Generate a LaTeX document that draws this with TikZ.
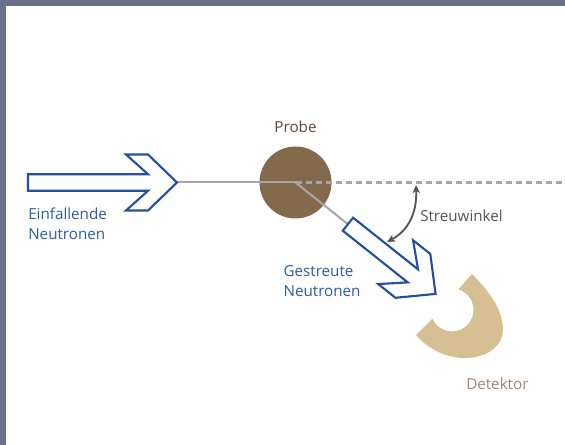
\documentclass[tikz,border=0pt]{standalone}
\usepackage{fontspec}
\setmainfont{Open Sans}
\usetikzlibrary{arrows.meta}
\definecolor{rahmen}{HTML}{6B7189}
\definecolor{neutronblau}{HTML}{2350A0}
\definecolor{textblau}{HTML}{2F5AA6}
\definecolor{probebraun}{HTML}{836A4C}
\definecolor{probetext}{HTML}{5E4A35}
\definecolor{detektorbeige}{HTML}{D6BF93}
\definecolor{detektortext}{HTML}{A4876B}
\definecolor{strahlgrau}{HTML}{A6A6A6}
\definecolor{winkelgrau}{HTML}{555555}
\tikzset{
    pics/neutronen/.style={code={
        \draw[pfeil] (0,-8.3) -- ({#1-29},-8.3) -- ({#1-51},-28) -- ({#1-29},-28) -- (#1,0)
            -- ({#1-29},28) -- ({#1-51},28) -- ({#1-29},8.3) -- (0,8.3) -- cycle;
    }},
}
\begin{document}
\begin{tikzpicture}[x=0.75pt, y=-0.75pt,
    pfeil/.style={draw=neutronblau, fill=white, line width=1.6pt},
    strahl/.style={strahlgrau, line width=1.5pt},
    beschriftung/.style={font=\fontsize{11.4}{15}\selectfont, inner sep=0pt, align=left}]
    \useasboundingbox (0,0) rectangle (565,445);
    \fill[rahmen] (0,0) rectangle (565,6);
    \fill[rahmen] (0,0) rectangle (6,445);

    \node[circle, fill=probebraun, minimum size=54pt, inner sep=0pt] (probe) at (295.5,182.5) {};
    \coordinate (einSpitze) at (177,182.5);
    \coordinate (rand) at (565,182.5);
    \coordinate (streuEnde) at ([shift={(38.5:67)}]probe.center);
    \draw[strahl] (einSpitze) -- (probe.center);
    \draw[strahl, line width=1.9pt, dash pattern=on 4.5pt off 3pt] (probe.center) -- (rand);
    \draw[strahl] (probe.center) -- (streuEnde);

    \pic at (28,182.5) {neutronen=149};
    \pic[rotate=-38.5] at (streuEnde) {neutronen=112};

    \fill[detektorbeige] (472,274) .. controls (486,288) and (503,308) .. (503,330)
        .. controls (503,360) and (448,372) .. (416,335)
        -- (432.4,318.7) arc[start angle=156, end angle=-73, radius=21.5] -- cycle;

    \coordinate (winkelOben) at (416,185);
    \coordinate (winkelUnten) at (387,242);
    \draw[winkelgrau, line width=1.4pt, {Stealth[length=6pt,width=5.5pt,inset=1.5pt]}-{Stealth[length=6pt,width=5.5pt,inset=1.5pt]}]
        (winkelOben) .. controls (417,212) and (409,230) .. (winkelUnten);

    \node[beschriftung, textblau, anchor=base west] (einText) at (28,240) {Einfallende\\Neutronen};
    \node[beschriftung, probetext, anchor=base] (probeText) at (295.5,133) {Probe};
    \node[beschriftung, textblau, anchor=base west] (streuText) at (283.3,296.7) {Gestreute\\Neutronen};
    \node[beschriftung, winkelgrau, anchor=base west] (winkelText) at (420,221.7) {Streuwinkel};
    \node[beschriftung, detektortext, anchor=base west] (detektorText) at (466,389.3) {Detektor};
\end{tikzpicture}
\end{document}
